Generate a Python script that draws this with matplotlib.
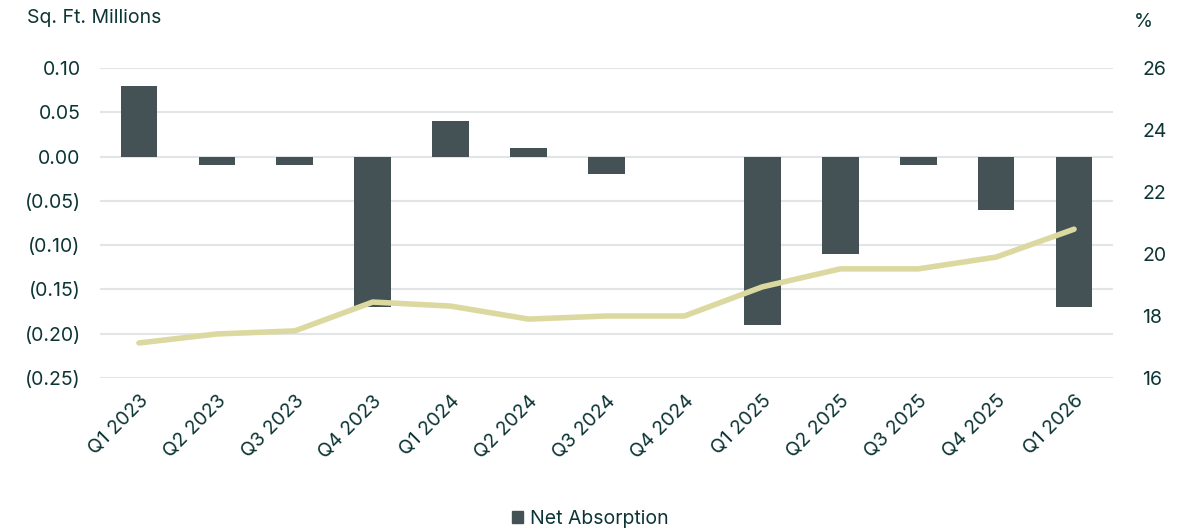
import matplotlib
matplotlib.use("Agg")
import matplotlib.pyplot as plt
from matplotlib.ticker import FixedLocator
from matplotlib.patches import Patch

quarters = ["Q1 2023", "Q2 2023", "Q3 2023", "Q4 2023", "Q1 2024", "Q2 2024",
            "Q3 2024", "Q4 2024", "Q1 2025", "Q2 2025", "Q3 2025", "Q4 2025", "Q1 2026"]
net_absorption = [0.08, -0.01, -0.01, -0.17, 0.04, 0.01, -0.02, 0.0, -0.19, -0.11, -0.01, -0.06, -0.17]
vacancy_rate = [17.13, 17.42, 17.52, 18.45, 18.32, 17.9, 18.0, 18.0, 18.94, 19.52, 19.52, 19.9, 20.8]

left_ticks = [0.10, 0.05, 0.00, -0.05, -0.10, -0.15, -0.20, -0.25]
left_labels = ["0.10", "0.05", "0.00", "(0.05)", "(0.10)", "(0.15)", "(0.20)", "(0.25)"]
right_ticks = [16, 18, 20, 22, 24, 26]

plt.rcParams['font.family'] = ['Inter', 'DejaVu Sans']
text_c = "#0d3535"
bar_c = "#445255"
line_c = "#dcd9a0"
grid_c = "#e1e5e5"
fs = 14

fig = plt.figure(figsize=(11.81, 5.30), dpi=100)
ax = fig.add_axes([100/1181, 1-378/530, (1113-100)/1181, (378-68)/530])
x = list(range(len(quarters)))
ax.bar(x, net_absorption, width=0.47, color=bar_c, zorder=3)
ax.set_ylim(-0.25, 0.10)
ax.set_xlim(-0.5, len(quarters)-0.5)
ax.yaxis.set_major_locator(FixedLocator(left_ticks))
ax.set_yticklabels(left_labels)
ax.grid(axis='y', color=grid_c, linewidth=1.5, zorder=0)
ax.set_axisbelow(True)
for s in ax.spines.values():
    s.set_visible(False)
ax.tick_params(axis='both', length=0, colors=text_c, labelsize=fs)
ax.tick_params(axis='y', pad=14)
ax.set_xticks(x)
ax.set_xticklabels(quarters, rotation=45, ha='right', rotation_mode='anchor')
ax.tick_params(axis='x', pad=10)

ax2 = ax.twinx()
ax2.plot(x, vacancy_rate, color=line_c, linewidth=4, solid_capstyle='round', zorder=4)
ax2.set_ylim(16, 26)
ax2.yaxis.set_major_locator(FixedLocator(right_ticks))
for s in ax2.spines.values():
    s.set_visible(False)
ax2.tick_params(axis='y', length=0, colors=text_c, labelsize=fs, pad=21)

fig.text(27/1181, 1-18/530, "Sq. Ft. Millions", color=text_c, fontsize=fs, va='center', ha='left')
fig.text(1134/1181, 1-22/530, "%", color=text_c, fontsize=fs, va='center', ha='left')

fig.legend(handles=[Patch(color=bar_c, label="Net Absorption")], loc='center',
           bbox_to_anchor=(0.5, 1-519/530), frameon=False, fontsize=fs,
           handlelength=0.55, handleheight=0.55, handletextpad=0.4, labelcolor=text_c)

fig.savefig("out.png", dpi=100)
